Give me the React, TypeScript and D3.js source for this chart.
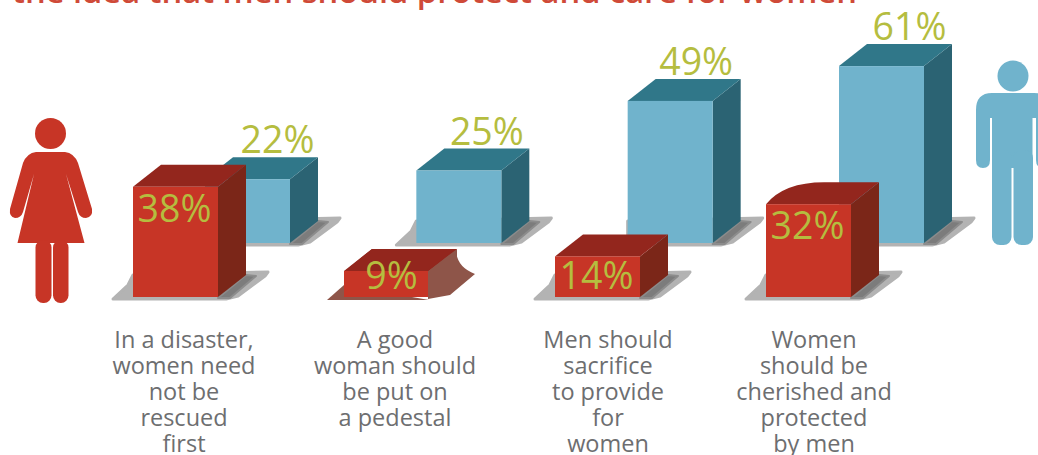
import React from "react";
import * as d3 from "d3";

const categories = [
  ["In a disaster,", "women need", "not be", "rescued", "first"],
  ["A good", "woman should", "be put on", "a pedestal"],
  ["Men should", "sacrifice", "to provide", "for", "women"],
  ["Women", "should be", "cherished and", "protected", "by men"],
];
const womenValues = [38, 9, 14, 32];
const menValues = [22, 25, 49, 61];
const titleText = "the idea that men should protect and care for women";

const W = 1038;
const H = 455;
const BAR_W = 85;
const DX = 28;
const DY = -22;

const RED = { face: "#c73526", top: "#93261d", side: "#7b2618" };
const BLUE = { face: "#70b3cc", top: "#307789", side: "#2b6373" };
const LABEL = "#b5bd3f";
const TEXT = "#6d6e70";

const idx = categories.map((_, i) => i);
const xWomen = d3.scalePoint<number>().domain(idx).range([133, 766]);
const xMen = d3.scalePoint<number>().domain(idx).range([205, 839]);
const xText = d3.scaleOrdinal<number, number>().domain(idx).range([184, 395, 608, 814]);
const height = d3.scaleLinear().domain([0, 100]).range([0, 290]);
const WOMEN_BASE = 297;
const MEN_BASE = 243;

const poly = (pts: [number, number][]) => {
  const p = d3.path();
  pts.forEach(([x, y], i) => (i ? p.lineTo(x, y) : p.moveTo(x, y)));
  p.closePath();
  return p.toString();
};

function Shadow({ x, base, left }: { x: number; base: number; left: boolean }) {
  const r = x + BAR_W;
  const outer: [number, number][] = [
    [left ? x - 20 : x, base + 2],
    [left ? x - 5 : x, base - 12],
    [x, base - 22],
    [r + 50, base - 25],
    [r + 47, base - 21],
    [r + 20, base - 1],
    [r + 8, base + 2],
  ];
  const inner: [number, number][] = [
    [r, base + 1],
    [r + DX, base + DY],
    [r + 38, base + DY + 1],
    [r + 12, base + 1],
  ];
  return (
    <g strokeLinejoin="round">
      <path d={poly(outer)} fill="#b3b3b3" stroke="#b3b3b3" strokeWidth={3} />
      <path d={poly(inner)} fill="#7c7c7c" stroke="#8c8c8c" strokeWidth={2} />
    </g>
  );
}

function Box({ x, base, value, c, topPath, side }: {
  x: number; base: number; value: number;
  c: typeof RED; topPath?: string; side?: string;
}) {
  const y = base - height(value);
  const r = x + BAR_W;
  return (
    <g>
      <path d={poly([[r, y], [r + DX, y + DY], [r + DX, base + DY], [r, base]])} fill={side ?? c.side} />
      <path d={topPath ?? poly([[x, y], [x + DX, y + DY], [r + DX, y + DY], [r, y]])} fill={c.top} />
      <rect x={x} y={y} width={BAR_W} height={height(value)} fill={c.face} />
    </g>
  );
}

function Woman() {
  return (
    <g fill={RED.face}>
      <circle cx={50.5} cy={133.5} r={15.5} />
      <path d="M36 152 L65 152 Q74 153 78 163 L92 209 Q93 217 86 218 Q80 218 78 212 L66 174 L84.5 243 L17.5 243 L34 174 L23 212 Q21 218 15 218 Q9 217 10 209 L23 163 Q27 153 36 152 Z" />
      <rect x={35.5} y={240} width={16} height={63} rx={7.5} />
      <rect x={53} y={240} width={15.5} height={63} rx={7.5} />
    </g>
  );
}

function Man() {
  return (
    <g fill={BLUE.face}>
      <circle cx={1013} cy={76} r={15.5} />
      <path d="M992 93 L1034 93 Q1050 93 1050 110 L1050 160 Q1050 168 1043 168 Q1036 168 1036 160 L1036 118 L1032.5 118 L1032.5 168 L992 168 L992 118 L990 118 L990 160 Q990 168 983 168 Q976 168 976 160 L976 110 Q976 93 992 93 Z" />
      <rect x={992} y={150} width={19.5} height={95} rx={8} />
      <rect x={1013.5} y={150} width={19.5} height={95} rx={8} />
    </g>
  );
}

export default function App() {
  // The 9% box melts into its shadow on the right; the 32% box has a swept top-left edge.
  const x9 = xWomen(1)!;
  const y9 = WOMEN_BASE - height(womenValues[1]);
  const x32 = xWomen(3)!;
  const y32 = WOMEN_BASE - height(womenValues[3]);
  const top32 = `M${x32} ${y32} Q${x32 + 18} ${y32 + DY} ${x32 + 58} ${y32 + DY} L${x32 + BAR_W + DX} ${y32 + DY} L${x32 + BAR_W} ${y32} Z`;
  const r9 = x9 + BAR_W - 1;
  const melt = `M${r9} ${y9} L${r9 + 28} ${y9 - 22} Q${r9 + 28} ${y9 - 4} ${r9 + 47} ${y9 + 3} L${r9 + 22} ${WOMEN_BASE - 2} L${r9} ${WOMEN_BASE + 2} Z`;
  const menNudge = [2, 0, -2, 0];

  return (
    <svg width={W} height={H} viewBox={`0 0 ${W} ${H}`} style={{ position: "absolute", left: 0, top: 0, background: "#fff" }}>
      <text x={12} y={2.5} fontFamily="'Open Sans'" fontSize={31} fontWeight={600} fill="#cf4a38" textLength={845} lengthAdjust="spacingAndGlyphs">
        {titleText}
      </text>
      <Woman />
      <Man />

      {menValues.map((v, i) => (
        <g key={`m${i}`}>
          <Shadow x={xMen(i)!} base={MEN_BASE} left={i === 1} />
          <Box x={xMen(i)!} base={MEN_BASE} value={v} c={BLUE} />
          {i === 2 && <path d={`M${xMen(i)!} ${MEN_BASE - 12} Q${xMen(i)!} ${MEN_BASE - 2} ${xMen(i)! - 6} ${MEN_BASE} L${xMen(i)!} ${MEN_BASE} Z`} fill={BLUE.face} />}
          <text x={xMen(i)! + BAR_W / 2 + 28 + menNudge[i]} y={MEN_BASE - height(v) + DY - 4} textAnchor="middle"
            fontFamily="'Open Sans'" fontSize={37.5} fill={LABEL}>{v}%</text>
        </g>
      ))}

      {womenValues.map((v, i) => {
        const x = xWomen(i)!;
        const y = WOMEN_BASE - height(v);
        return (
          <g key={`w${i}`}>
            {i === 1
              ? <path d={poly([[x - 17, WOMEN_BASE + 3], [x, WOMEN_BASE - 12], [x + BAR_W, WOMEN_BASE + 3]])} fill="#8e5549" />
              : <Shadow x={x} base={WOMEN_BASE} left />}
            <Box x={x} base={WOMEN_BASE} value={v} c={RED}
              topPath={i === 3 ? top32 : undefined}
              side={i === 1 ? "#8e5549" : undefined} />
            {i === 1 && <path d={melt} fill="#8e5549" />}
            {i === 1 && <path d={poly([[x + 1, y], [x + DX, y + DY], [x + BAR_W + DX, y + DY], [x + BAR_W - 1, y]])} fill={RED.top} />}
            <text x={x + BAR_W / 2 + (i === 1 ? 5 : -1)} y={Math.min(y + 35, 289)} textAnchor="middle"
              fontFamily="'Open Sans'" fontSize={37.5} fill={LABEL}>{v}%</text>
          </g>
        );
      })}

      {categories.map((lines, i) => (
        <text key={`c${i}`} textAnchor="middle" fontFamily="'Open Sans'" fontSize={23.5} fill={TEXT}>
          {lines.map((l, j) => (
            <tspan key={j} x={xText(i)} y={348 + j * 26}>{l}</tspan>
          ))}
        </text>
      ))}
    </svg>
  );
}
